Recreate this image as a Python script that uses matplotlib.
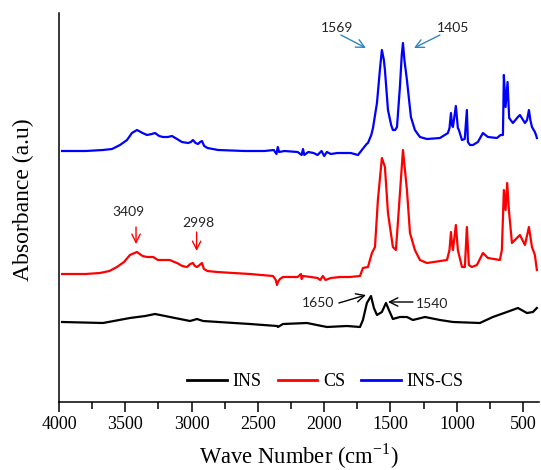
import matplotlib
matplotlib.use("Agg")
import matplotlib.pyplot as plt
from matplotlib.ticker import MultipleLocator

# ---- data (wavenumber cm-1, absorbance a.u., stacked) ----
ins_wn = [3977, 3668, 3465, 3350, 3276, 3200, 3163, 3012, 2959, 2914, 2560, 2356, 2349, 2311,
          2130, 2055, 1979, 1828, 1730, 1708, 1678, 1647, 1625, 1602, 1565, 1534, 1512, 1482,
          1429, 1376, 1331, 1240, 1127, 1029, 826, 728, 622, 539, 471, 426, 396]
ins_abs = [0.78, 0.77, 0.82, 0.84, 0.86, 0.84, 0.83, 0.79, 0.81, 0.79, 0.76, 0.74, 0.73, 0.76,
           0.77, 0.75, 0.73, 0.74, 0.73, 0.80, 0.97, 1.04, 0.92, 0.85, 0.88, 0.97, 0.90, 0.81,
           0.83, 0.83, 0.80, 0.83, 0.80, 0.78, 0.77, 0.83, 0.88, 0.92, 0.87, 0.88, 0.92]

cs_wn = [3977, 3800, 3691, 3620, 3563, 3510, 3465, 3412, 3370, 3336, 3290, 3254, 3210, 3163,
         3130, 3110, 3070, 3035, 3010, 2990, 2975, 2959, 2940, 2922, 2907, 2880, 2809, 2560,
         2386, 2365, 2356, 2349, 2334, 2311, 2200, 2175, 2170, 2160, 2100, 2050, 2030, 2010,
         1990, 1950, 1881, 1806, 1730, 1708, 1670, 1640, 1617, 1595, 1565, 1542, 1519, 1482,
         1459, 1436, 1406, 1376, 1353, 1316, 1278, 1225, 1074, 1055, 1044, 1035, 1029, 1007,
         992, 961, 939, 924, 909, 886, 848, 803, 765, 675, 660, 645, 632, 620, 607, 584, 524,
         486, 456, 433, 411, 396]
cs_abs = [1.26, 1.26, 1.27, 1.29, 1.33, 1.38, 1.45, 1.48, 1.44, 1.43, 1.43, 1.40, 1.40, 1.40,
          1.38, 1.37, 1.34, 1.33, 1.36, 1.37, 1.34, 1.33, 1.35, 1.37, 1.31, 1.29, 1.28, 1.26,
          1.24, 1.20, 1.15, 1.18, 1.21, 1.23, 1.23, 1.26, 1.21, 1.24, 1.23, 1.22, 1.20, 1.24,
          1.20, 1.22, 1.23, 1.23, 1.24, 1.32, 1.33, 1.47, 1.53, 2.00, 2.42, 2.33, 1.87, 1.53,
          1.50, 1.93, 2.50, 2.10, 1.67, 1.50, 1.40, 1.37, 1.40, 1.50, 1.68, 1.55, 1.50, 1.75,
          1.50, 1.33, 1.33, 1.73, 1.35, 1.33, 1.35, 1.47, 1.42, 1.40, 1.50, 2.10, 1.90, 2.17,
          1.90, 1.57, 1.65, 1.55, 1.73, 1.53, 1.45, 1.30]

inscs_wn = [3977, 3800, 3668, 3600, 3540, 3487, 3450, 3412, 3370, 3336, 3300, 3276, 3245, 3216,
            3180, 3148, 3110, 3073, 3027, 3005, 2990, 2970, 2952, 2935, 2922, 2905, 2880, 2800,
            2600, 2450, 2380, 2360, 2350, 2340, 2300, 2200, 2170, 2160, 2150, 2120, 2080, 2050,
            2020, 2000, 1980, 1950, 1900, 1800, 1745, 1710, 1680, 1670, 1645, 1632, 1602, 1580,
            1565, 1550, 1542, 1519, 1495, 1482, 1465, 1451, 1429, 1415, 1406, 1395, 1376, 1346,
            1316, 1278, 1225, 1127, 1067, 1055, 1044, 1036, 1029, 1007, 992, 984, 961, 940, 924,
            916, 900, 878, 841, 803, 765, 697, 670, 652, 645, 632, 617, 605, 577, 539, 524, 486,
            470, 456, 445, 433, 411, 400, 396]
inscs_abs = [2.49, 2.49, 2.50, 2.51, 2.55, 2.60, 2.67, 2.70, 2.67, 2.65, 2.66, 2.67, 2.64, 2.63,
             2.63, 2.64, 2.61, 2.58, 2.57, 2.58, 2.60, 2.57, 2.56, 2.58, 2.59, 2.54, 2.52, 2.50,
             2.49, 2.49, 2.50, 2.46, 2.53, 2.48, 2.49, 2.48, 2.45, 2.51, 2.45, 2.48, 2.47, 2.45,
             2.49, 2.44, 2.48, 2.46, 2.47, 2.47, 2.45, 2.51, 2.56, 2.57, 2.65, 2.72, 2.97, 3.30,
             3.50, 3.40, 3.30, 2.90, 2.75, 2.70, 2.70, 2.73, 3.13, 3.45, 3.57, 3.40, 3.20, 2.83,
             2.70, 2.63, 2.61, 2.62, 2.67, 2.72, 2.87, 2.75, 2.73, 2.94, 2.72, 2.70, 2.60, 2.61,
             2.90, 2.58, 2.55, 2.55, 2.58, 2.67, 2.63, 2.62, 2.65, 2.65, 3.25, 2.93, 3.18, 2.82,
             2.77, 2.83, 2.85, 2.77, 2.80, 2.90, 2.80, 2.73, 2.68, 2.64, 2.62]

series_names = ["INS", "CS", "INS-CS"]
series_colors = ["#000000", "#FF0000", "#0000FF"]

x_ticks = [4000, 3500, 3000, 2500, 2000, 1500, 1000, 500]

# annotations: (label, text pos, arrow tail, arrow head, color)
annotations = [
    ("1569", (1904, 3.72), (1874, 3.65), (1685, 3.52), "#2E86C1"),
    ("1405", (1029, 3.72), (1127, 3.65), (1323, 3.52), "#2E86C1"),
    ("3409", (3480, 1.88), (3419, 1.73), (3419, 1.56), "#FF0000"),
    ("2998", (2952, 1.77), (2962, 1.68), (2962, 1.49), "#FF0000"),
    ("1650", (2047, 0.97), (1889, 0.97), (1685, 1.05), "#000000"),
    ("1540", (1188, 0.96), (1331, 0.98), (1519, 0.98), "#000000"),
]

# ---- figure ----
fig = plt.figure(figsize=(5.41, 4.70), dpi=100)
ax = fig.add_axes([59/541, 68/470, 480/541, 389/470])

serif = ["Liberation Serif", "DejaVu Serif"]

for wn, ab, name, col in zip([ins_wn, cs_wn, inscs_wn], [ins_abs, cs_abs, inscs_abs],
                             series_names, series_colors):
    ax.plot(wn, ab, color=col, lw=1.6, label=name)

ax.set_xlim(4000, 380)
ax.set_ylim(-0.02, 3.87)
ax.set_yticks([])
ax.set_xticks(x_ticks)
ax.set_xticklabels([str(t) for t in x_ticks], family=serif, fontsize=13)
ax.xaxis.set_minor_locator(MultipleLocator(250))
ax.tick_params(axis="x", which="major", direction="out", length=7, width=1.1, pad=3)
ax.tick_params(axis="x", which="minor", direction="out", length=5, width=1.1)
for s in ["top", "right"]:
    ax.spines[s].set_visible(False)
for s in ["left", "bottom"]:
    ax.spines[s].set_linewidth(1.1)

ax.set_xlabel("Wave Number (cm$^{\\mathregular{-1}}$)", family=serif, fontsize=16.3, labelpad=6)
ax.set_ylabel("Absorbance (a.u)", family=serif, fontsize=17)
ax.yaxis.set_label_coords(-0.052, 0.52)

leg = ax.legend(loc="center", bbox_to_anchor=(0.555, 0.052), ncol=3, frameon=False,
                prop={"family": serif, "size": 13}, handlelength=2.2, columnspacing=0.9,
                handletextpad=0.3)
for line in leg.get_lines():
    line.set_linewidth(2)

for label, tpos, tail, head, col in annotations:
    ax.text(tpos[0], tpos[1], label, ha="center", va="center", fontsize=10,
            family=["Lato", "DejaVu Sans"], color="#222222")
    ax.annotate("", xy=head, xytext=tail,
                arrowprops=dict(arrowstyle="->,head_length=0.6,head_width=0.3",
                                color=col, lw=1.0, shrinkA=0, shrinkB=0))

fig.savefig("out.png", dpi=100)
